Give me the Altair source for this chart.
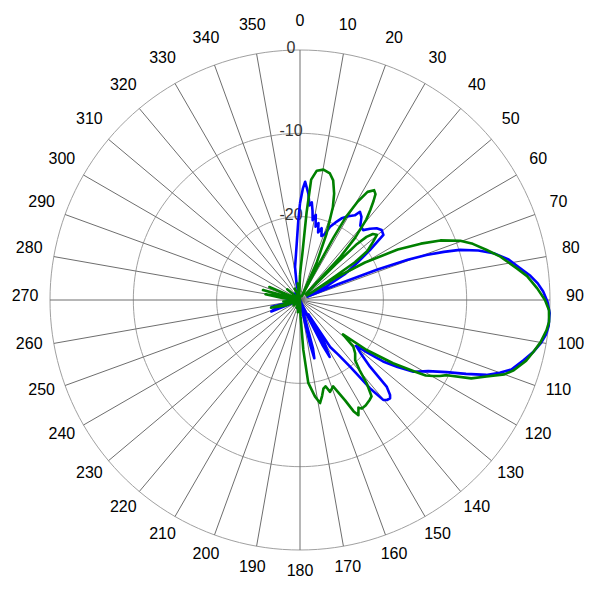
import altair as alt
import pandas as pd

# ---- data (angle in degrees clockwise from north, level in dB) ----
blue_deg = [0, 1.5, 2.5, 4.5, 5.7, 6.9, 8.0, 9.0, 10.5, 12.0, 13.5, 15.0, 16.8, 18.5, 20.5, 22.3,
            24.5, 27, 30, 32.9, 34.2, 36.5, 39, 42.1, 44.5, 46.9, 49.4, 52, 54.5, 57.1, 60, 63, 66,
            67.5, 68.5, 69.5, 70.4, 71.5, 72.6, 74.5, 76.4, 79, 81.8, 84, 86, 88, 90.4, 93, 96, 98,
            100, 102.5, 105, 108.2, 110, 111.9, 114, 116.2, 119, 122.3, 124.5, 126.5, 128, 129.3,
            131.5, 133.6, 135, 136.5, 137.5, 139, 140.2, 141.6, 143.1, 145, 147.3, 149.5, 150.5,
            152.5, 153.5, 155, 158, 164, 165, 166.2, 167.2, 169, 185, 200, 215, 245, 248.2, 252,
            256.7, 260, 270, 276, 280, 285, 300, 320, 340, 348, 351.5, 356.7, 358.8, 360]
blue_db = [-18.4, -16.6, -15.8, -17.2, -18.6, -18.2, -19.2, -20.3, -19.6, -21.0, -20.5, -21.6, -21.0,
           -21.9, -21.6, -20.5, -19.8, -19.0, -18.4, -17.9, -17.2, -17.6, -18.5, -18.7, -18.0, -17.4,
           -17.1, -17.3, -19.7, -21.9, -23.8, -26.5, -29, -25, -20, -16.2, -13.9, -11.8, -9.9, -7.8,
           -6.1, -4.5, -3.3, -2.2, -1.4, -0.8, -0.3, 0, 0, -0.2, -0.6, -1.3, -2.2, -3.3, -4.5, -5.9,
           -8.2, -10.4, -12.4, -13.9, -15.8, -17.6, -19.8, -21.3, -20.2, -18.4, -15.3, -14.3, -14.0,
           -14.1, -14.4, -16.5, -20, -22, -23.3, -28, -24, -22.3, -24, -28, -30, -29, -24, -22.8,
           -24.5, -29, -30, -29, -30, -30, -26.3, -27.2, -26.5, -30, -29.5, -28.5, -27.6, -30, -30,
           -29, -30, -28, -26, -23.2, -20.4, -18.4]

green_deg = [0, 1.5, 2.9, 4.3, 5.3, 7.4, 10.2, 13.3, 15.5, 17.8, 19.5, 21.8, 24, 25.8, 27.6, 28.2,
             29.0, 30.4, 32, 34, 35.5, 36.6, 38, 39.5, 41.5, 43.2, 44.3, 45, 45.5, 46.5, 47.8, 49.7,
             51.5, 54, 55.5, 56.3, 57, 58, 60, 62.7, 65, 67, 69.7, 72, 75, 77.8, 81.7, 84, 87.2, 90,
             92.3, 95, 97, 100, 102.5, 105, 108.2, 110, 112.3, 114.6, 117.1, 118.5, 119.7, 121, 122,
             124.2, 126.9, 128.7, 131.2, 134, 137.5, 139.6, 141.3, 143.4, 145, 148, 150.3, 151.5,
             153.1, 154.3, 155.8, 159, 161.9, 163.5, 165.2, 167, 169, 171.2, 174.3, 176.2, 178, 180,
             190, 196, 205, 212, 230, 240, 250, 255, 258, 265, 270, 276, 279.5, 282, 285, 288, 293,
             297, 310, 320, 335, 345, 352, 356, 360]
green_db = [-27, -26, -24.5, -19.5, -15.5, -14.35, -14.1, -14.4, -15.1, -16.6, -18.2, -21.4, -25,
            -29.5, -26, -21.5, -18.5, -16.3, -14.7, -14.1, -14.4, -15.2, -16.3, -17.5, -20.0, -23,
            -29, -24, -20.4, -19, -18.2, -17.9, -18.8, -20, -22, -26, -29, -25, -21, -16.8, -14,
            -11.7, -9.5, -8.2, -6.8, -5.4, -3.7, -2.6, -1.5, -0.6, -0.1, 0, -0.2, -0.7, -1.3, -1.9,
            -3.0, -3.9, -5.8, -7.4, -10.2, -10.9, -11.6, -12.4, -13.8, -16.5, -20.0, -23.4, -21.5,
            -20.8, -20.2, -19.0, -17.2, -15.6, -15.4, -15.1, -15.0, -15.3, -14.5, -15.2, -16.8,
            -18.9, -18.4, -19.2, -19.0, -18.2, -17.4, -18.3, -20, -24, -28, -30, -28.5, -30, -29,
            -30, -29, -30, -28, -26.4, -30, -28, -30, -28, -25.8, -29, -25.4, -30, -26, -30, -28,
            -30, -28.5, -30, -28, -29, -27]

ring_db = [0, -10, -20]
ring_text = ["0", "-10", "-20"]
spoke_deg = list(range(0, 360, 10))
spoke_text = [str(a) for a in spoke_deg]

FONT = "Liberation Sans"
HALF = 1.168          # scale half-range, outer ring at radius 1
LABEL_R = 1.1

xs = alt.Scale(domain=[-HALF, HALF])
ys = alt.Scale(domain=[-HALF, HALF])

R_EXPR = "max(0, datum.db + 30) / 30"
X_EXPR = "datum.r * sin(datum.deg * PI / 180)"
Y_EXPR = "datum.r * cos(datum.deg * PI / 180)"


def polar(chart):
    return (chart.transform_calculate(r=R_EXPR)
                 .transform_calculate(x=X_EXPR, y=Y_EXPR))


# rings
ring_rows = [{"ring": d, "deg": a, "db": d} for d in ring_db for a in range(0, 361, 2)]
rings = polar(alt.Chart(pd.DataFrame(ring_rows)).mark_line(color="#a0a0a0", strokeWidth=1)).encode(
    x=alt.X("x:Q", scale=xs, axis=None),
    y=alt.Y("y:Q", scale=ys, axis=None),
    detail="ring:N",
    order="deg:Q",
)

# spokes
spokes = (alt.Chart(pd.DataFrame({"deg": spoke_deg}))
          .transform_calculate(x0="0", y0="0",
                               x1="sin(datum.deg * PI / 180)",
                               y1="cos(datum.deg * PI / 180)")
          .mark_rule(color="#6e6e6e", strokeWidth=1)
          .encode(x=alt.X("x0:Q", scale=xs, axis=None),
                  y=alt.Y("y0:Q", scale=ys, axis=None),
                  x2="x1:Q", y2="y1:Q"))

# angle labels
angle_labels = (alt.Chart(pd.DataFrame({"deg": spoke_deg, "t": spoke_text}))
                .transform_calculate(x=f"{LABEL_R} * sin(datum.deg * PI / 180)",
                                     y=f"{LABEL_R} * cos(datum.deg * PI / 180)")
                .mark_text(font=FONT, fontSize=16, color="#000000", align="center",
                           baseline="middle", dy=-4)
                .encode(x=alt.X("x:Q", scale=xs, axis=None),
                        y=alt.Y("y:Q", scale=ys, axis=None),
                        text="t:N"))

# ring labels
ring_labels = (alt.Chart(pd.DataFrame({"db": ring_db, "t": ring_text}))
               .transform_calculate(r=R_EXPR)
               .transform_calculate(x="0", y="datum.r")
               .mark_text(font=FONT, fontSize=16, color="#333333", align="center",
                          baseline="middle", dx=-9, dy=-2)
               .encode(x=alt.X("x:Q", scale=xs, axis=None),
                       y=alt.Y("y:Q", scale=ys, axis=None),
                       text="t:N"))


def pattern(deg, db, color):
    df = pd.DataFrame({"i": list(range(len(deg))), "deg": deg, "db": db})
    return polar(alt.Chart(df).mark_line(color=color, strokeWidth=2.6, strokeJoin="round")).encode(
        x=alt.X("x:Q", scale=xs, axis=None),
        y=alt.Y("y:Q", scale=ys, axis=None),
        order="i:Q",
    )


blue = pattern(blue_deg, blue_db, "#0000ff")
green = pattern(green_deg, green_db, "#008000")

chart = (alt.layer(rings, spokes, ring_labels, angle_labels, blue, green)
         .properties(width=584, height=584, padding=0, autosize="none",
                     background="#ffffff")
         .configure_view(stroke=None))

chart.save("out.html", embed_options={"renderer": "svg", "actions": False})
